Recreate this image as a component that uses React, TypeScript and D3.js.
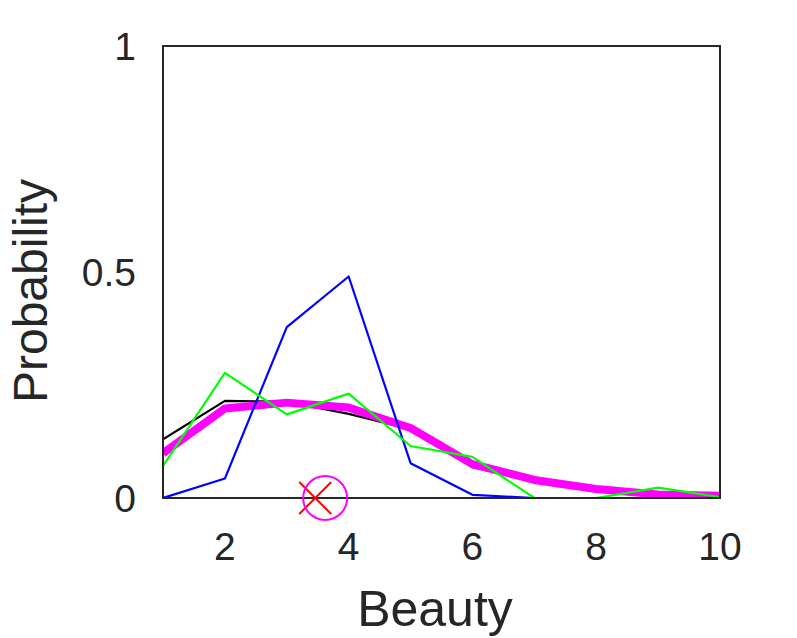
import React from 'react';
import * as d3 from 'd3';

const beauty = [1, 2, 3, 4, 5, 6, 7, 8, 9, 10];
const blackSeries = [0.13, 0.215, 0.213, 0.186, 0.152, 0.068, 0.038, 0.02, 0.009, 0.005];
const magentaSeries = [0.099, 0.198, 0.211, 0.2, 0.155, 0.075, 0.04, 0.02, 0.008, 0.005];
const blueSeries = [0.0, 0.043, 0.378, 0.49, 0.077, 0.007, 0.0, 0.0, 0.0, 0.0];
const greenSeries = [0.071, 0.277, 0.185, 0.231, 0.115, 0.091, 0.0, 0.0, 0.023, 0.002];
const xTicks = [2, 4, 6, 8, 10];
const yTicks = [0, 0.5, 1];
const crossX = 3.46;
const circleX = 3.62;

const W = 797;
const H = 638;
const margin = { left: 163, right: 77, top: 46, bottom: 140 };

export default function App() {
  const x = d3.scaleLinear().domain([1, 10]).range([margin.left, W - margin.right]);
  const y = d3.scaleLinear().domain([0, 1]).range([H - margin.bottom, margin.top]);
  const line = d3.line<number>().x((_, i) => x(beauty[i])).y(d => y(d));

  const series = [
    { data: blackSeries, color: '#000000', width: 2.2 },
    { data: magentaSeries, color: '#ff00ff', width: 8 },
    { data: blueSeries, color: '#0000ff', width: 2.2 },
    { data: greenSeries, color: '#00ff00', width: 2.2 },
  ];

  const font = '"Liberation Sans", Arial, Helvetica, sans-serif';
  const x0 = x(1), x1 = x(10), y0 = y(0), y1 = y(1);
  const cx = x(crossX);
  const ccx = x(circleX);

  return (
    <svg width={W} height={H} style={{ position: 'absolute', left: 0, top: 0, background: '#fff' }}>
      <defs>
        <clipPath id="plotClip">
          <rect x={x0} y={y1 - 10} width={x1 - x0} height={y0 - y1 + 10} />
        </clipPath>
      </defs>
      <g clipPath="url(#plotClip)">
        {series.map((s, i) => (
          <path key={i} d={line(s.data) || ''} fill="none" stroke={s.color}
            strokeWidth={s.width} strokeLinejoin="round" />
        ))}
      </g>
      <rect x={x0} y={y1} width={x1 - x0} height={y0 - y1} fill="none" stroke="#262626" strokeWidth={2} />
      <line x1={cx - 16} y1={y0 - 16} x2={cx + 16} y2={y0 + 16} stroke="#ff0000" strokeWidth={2} />
      <line x1={cx - 16} y1={y0 + 16} x2={cx + 16} y2={y0 - 16} stroke="#ff0000" strokeWidth={2} />
      <circle cx={ccx} cy={y0} r={22} fill="none" stroke="#ff00ff" strokeWidth={2} />
      <g fontFamily={font} fill="#262626" fontSize={39}>
        {xTicks.map(t => (
          <text key={t} x={x(t)} y={560} textAnchor="middle">{t}</text>
        ))}
        {yTicks.map(t => (
          <text key={t} x={136} y={y(t) + 14} textAnchor="end">{t}</text>
        ))}
      </g>
      <text x={435} y={626} textAnchor="middle" fontFamily={font} fontSize={50} fill="#262626">Beauty</text>
      <text transform={`translate(47,291) rotate(-90)`} textAnchor="middle" fontFamily={font} fontSize={48} fill="#262626">Probability</text>
    </svg>
  );
}
